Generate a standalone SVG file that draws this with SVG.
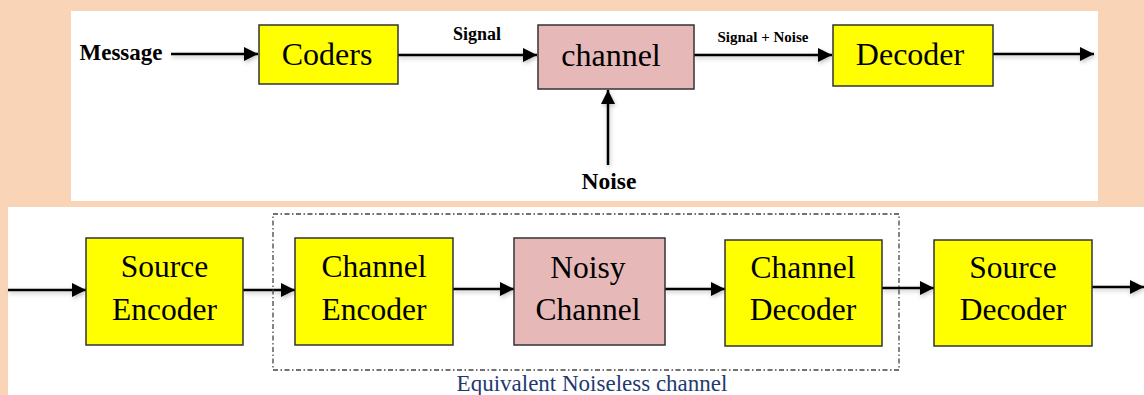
<svg xmlns="http://www.w3.org/2000/svg" width="1144" height="395" viewBox="0 0 1144 395">
  <style>
    .box { stroke: #333333; stroke-width: 1.5; }
    .yellow { fill: #FFFF00; }
    .pink { fill: #E6B8B7; }
    .lbl { font-family: "Liberation Serif", "Times New Roman", serif; fill: #000; text-anchor: middle; }
    .big { font-size: 32px; }
    .mid { font-size: 31.5px; }
    .bold { font-weight: bold; }
    .conn line { stroke: #000; stroke-width: 2.5; marker-end: url(#arr); }
  </style>
  <defs>
    <marker id="arr" markerUnits="userSpaceOnUse" markerWidth="16" markerHeight="16" refX="14" refY="7" orient="auto">
      <path d="M0,0 L14,7 L0,14 Z" fill="#000"/>
    </marker>
    <filter id="sh" x="-10%" y="-50%" width="120%" height="200%">
      <feDropShadow dx="1" dy="2" stdDeviation="2" flood-color="#000" flood-opacity="0.25"/>
    </filter>
  </defs>

  <rect x="0" y="0" width="1144" height="395" fill="#F9D4B6"/>
  <rect x="71" y="11" width="1027" height="190" fill="#FFFFFF"/>
  <rect x="8" y="207" width="1136" height="188" fill="#FFFFFF"/>

  <g id="connectors">
    <g class="conn" filter="url(#sh)">
      <line x1="171" y1="54" x2="258" y2="54"/>
      <line x1="398" y1="55" x2="537" y2="55"/>
      <line x1="694" y1="55" x2="832" y2="55"/>
      <line x1="993" y1="54" x2="1094" y2="54"/>
      <line x1="608" y1="165" x2="608" y2="90"/>
      <line x1="8" y1="290" x2="86" y2="290"/>
      <line x1="243" y1="290" x2="295" y2="290"/>
      <line x1="453" y1="289" x2="514" y2="289"/>
      <line x1="665" y1="289" x2="725" y2="289"/>
      <line x1="882" y1="288" x2="934" y2="288"/>
      <line x1="1092" y1="287" x2="1144" y2="287"/>
    </g>
    <text class="lbl bold" x="477" y="40" font-size="18">Signal</text>
    <text class="lbl bold" x="763" y="42" font-size="15">Signal + Noise</text>
  </g>

  <g id="message"><text class="lbl bold" x="121" y="60" font-size="23">Message</text></g>
  <g id="noise"><text class="lbl bold" x="609" y="189" font-size="23.5">Noise</text></g>

  <g id="coders">
    <rect class="box yellow" x="259" y="25" width="139" height="59"/>
    <text class="lbl big" x="327" y="65">Coders</text>
  </g>
  <g id="channel">
    <rect class="box pink" x="538" y="25" width="156" height="64"/>
    <text class="lbl big" x="611" y="66">channel</text>
  </g>
  <g id="decoder">
    <rect class="box yellow" x="833" y="25" width="160" height="61"/>
    <text class="lbl big" x="910" y="65">Decoder</text>
  </g>

  <g id="noiseless-group">
    <rect x="273" y="214" width="626" height="156" fill="none" stroke="#444" stroke-width="1.3" stroke-dasharray="5 2.5 1.5 2.5"/>
    <text class="lbl" x="592" y="391" font-size="23" fill="#1F3A70" style="fill:#1F3A70">Equivalent Noiseless channel</text>
  </g>

  <g id="source-encoder">
    <rect class="box yellow" x="86" y="238" width="157" height="107"/>
    <text class="lbl mid" x="164.5" y="277">Source</text>
    <text class="lbl mid" x="164.5" y="320">Encoder</text>
  </g>
  <g id="channel-encoder">
    <rect class="box yellow" x="295" y="238" width="158" height="107"/>
    <text class="lbl mid" x="374" y="277">Channel</text>
    <text class="lbl mid" x="374" y="320">Encoder</text>
  </g>
  <g id="noisy-channel">
    <rect class="box pink" x="514" y="238" width="151" height="107"/>
    <text class="lbl mid" x="588" y="278">Noisy</text>
    <text class="lbl mid" x="588" y="320">Channel</text>
  </g>
  <g id="channel-decoder">
    <rect class="box yellow" x="725" y="240" width="157" height="106"/>
    <text class="lbl mid" x="803" y="278">Channel</text>
    <text class="lbl mid" x="803" y="320">Decoder</text>
  </g>
  <g id="source-decoder">
    <rect class="box yellow" x="934" y="240" width="158" height="106"/>
    <text class="lbl mid" x="1013" y="278">Source</text>
    <text class="lbl mid" x="1013" y="320">Decoder</text>
  </g>
</svg>
